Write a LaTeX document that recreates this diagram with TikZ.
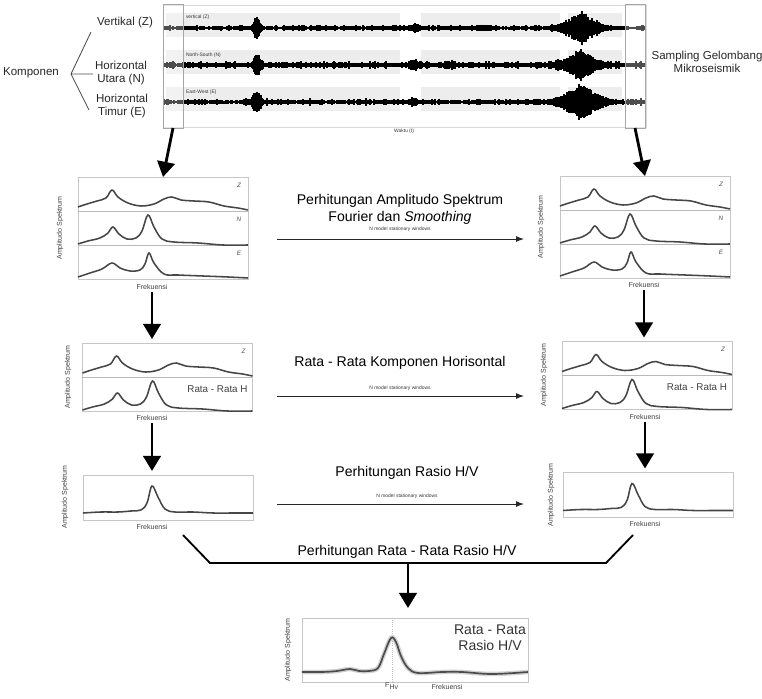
\documentclass[tikz,border=0pt]{standalone}
\usepackage{fontspec}
\setmainfont{Liberation Sans}
\usetikzlibrary{arrows.meta}

% spectrum curves, local coordinates of one sub panel (170 wide)
\newcommand{\curveZ}{\draw[spec] plot[smooth,tension=0.6] coordinates {(0,30) (9,27) (19,24) (28,21) (34,13) (40,20) (50,26) (63,29) (76,27) (86,22) (94,20) (103,23) (116,24) (131,25) (146,29) (160,31) (170,33)};}
\newcommand{\curveN}{\draw[spec] plot[smooth,tension=0.6] coordinates {(0,33) (10,30) (22,27) (30,22) (35,16) (41,23) (49,28) (58,27) (64,20) (70,4) (76,16) (84,28) (96,31) (120,32) (145,34) (170,34)};}
\newcommand{\curveE}{\draw[spec] plot[smooth,tension=0.6] coordinates {(0,32) (12,28) (24,24) (34,18) (42,23) (52,26) (62,25) (67,19) (71,8) (76,18) (86,29) (100,30) (125,31) (150,32) (170,33)};}
\newcommand{\curveHV}{\draw[spec] plot[smooth,tension=0.6] coordinates {(0,38) (18,37) (35,37) (48,36) (58,35) (64,28) (69,11) (75,22) (82,34) (92,37) (110,37) (130,38) (150,38) (170,38)};}

\begin{document}
\begin{tikzpicture}[x=0.025cm,y=-0.025cm,inner sep=0pt,outer sep=0pt,
spanel/.style={draw=gray!45,line width=0.5pt,rectangle,minimum width=4.25cm},
divl/.style={gray!55,line width=0.5pt},
spec/.style={gray!55!black,line width=1.1pt},
trace/.style={black,line width=0.75pt},
band/.style={fill=gray!14},
win/.style={draw=gray!70,line width=0.5pt,fill=white,fill opacity=0.3,minimum width=0.5cm,minimum height=3.1cm},
bigarrow/.style={line width=2pt,-{Triangle[length=0.38cm,width=0.44cm]}},
thinarrow/.style={line width=0.7pt,gray!30!black,-{Latex[length=0.2cm,width=0.15cm]}},
proc/.style={font=\fontsize{10}{12}\selectfont,align=center},
comp/.style={font=\fontsize{8.2}{9.6}\selectfont,align=center,text=black!85},
minitxt/.style={font=\fontsize{3.5}{4}\selectfont,text=gray!40!black},
axlab/.style={font=\fontsize{5}{6}\selectfont,text=black!75},
ylab/.style={axlab,rotate=90},
letr/.style={font=\fontsize{4.5}{5}\selectfont\itshape,text=black!70}]
\useasboundingbox (0,0) rectangle (762,698);

% seismogram
\node[draw=gray!30,line width=0.4pt,minimum width=12.075cm,minimum height=3.05cm] (seis) at (404.5,66) {};
\foreach \yy in {28,65,102}{
  \fill[band] (166,\yy-15) rectangle (400,\yy+9);
  \fill[band] (421,\yy-15) rectangle (560,\yy+9);
  \fill[band] (568,\yy-15) rectangle (622,\yy+9);
}
\node[minitxt,anchor=west] (lbZ) at (186,17) {vertical (Z)};
\node[minitxt,anchor=west] (lbN) at (186,55) {North-South (N)};
\node[minitxt,anchor=west] (lbE) at (186,92) {East-West (E)};
\pgfmathsetseed{7}
\foreach \x in {164,...,645}{
  \pgfmathsetmacro\ua{min(abs(\x-257)/3,10)}
  \pgfmathsetmacro\ub{min(abs(\x-581)/38,1)}
  \pgfmathsetmacro\uc{min(abs(\x-414)/4,10)}
  \pgfmathsetmacro\ud{min(abs(\x-481)/5,10)}
  \pgfmathsetmacro\ue{min(abs(\x-452)/4,10)}
  \pgfmathsetmacro\az{1.0+0.8*rnd+1.6*rnd^4+(0.7+0.5*rnd)*(9/(1+\ua^4)+14*(1-\ub)^2+2.5/(1+\uc^2)+2/(1+\ud^2))}
  \pgfmathsetmacro\an{1.2+0.9*rnd+2.2*rnd^4+(0.7+0.5*rnd)*(10/(1+\ua^4)+12*(1-\ub)^2+3/(1+\uc^2)+2/(1+\ue^2))}
  \pgfmathsetmacro\ae{1.1+0.9*rnd+1.8*rnd^4+(0.7+0.5*rnd)*(7/(1+(\ua/1.5)^4)+14*(1-\ub)^1.6+2/(1+\uc^2))}
  \draw[trace] (\x,{28-\az}) -- (\x,{28+\az});
  \draw[trace] (\x,{65-\an}) -- (\x,{65+\an});
  \draw[trace] (\x,{102-\ae}) -- (\x,{102+\ae});
}
\node[win] (winL) at (173,66) {};
\node[win] (winR) at (635,66) {};
\node[minitxt] (tWaktu) at (404,131) {Waktu (t)};

% components
\node[comp] (tKomp) at (31,73) {Komponen};
\node[comp] (tVert) at (125,23) {Vertikal (Z)};
\node[comp] (tUtara) at (121,73) {Horizontal\\Utara (N)};
\node[comp] (tTimur) at (122,106) {Horizontal\\Timur (E)};
\coordinate (kc) at (71,74);
\coordinate (kTop) at (91,32);
\coordinate (kMid) at (93,74);
\coordinate (kBot) at (89,110);
\draw[black!70,line width=0.6pt] (kTop) -- (kc) -- (kBot) (kc) -- (kMid);
\node[comp] (tSampl) at (707,62) {Sampling Gelombang\\Mikroseismik};

% row 1: amplitude spectra
\node[spanel,minimum height=2.55cm] (specL) at (163,228) {};
\node[spanel,minimum height=2.55cm] (specR) at (645,227) {};
\foreach \p in {specL,specR}{
\begin{scope}[shift={(\p.north west)}]
  \draw[divl] (0,34) -- (170,34) (0,68) -- (170,68);
  \curveZ
  \begin{scope}[shift={(0,34)}]\curveN\end{scope}
  \begin{scope}[shift={(0,68)}]\curveE\end{scope}
  \node[letr] at (161,8) {Z};
  \node[letr] at (161,42) {N};
  \node[letr] at (161,76) {E};
\end{scope}
}
\node[ylab] (yL1) at (60,228) {Amplitudo Spektrum};
\node[ylab] (yR1) at (541,227) {Amplitudo Spektrum};
\node[axlab] (fqL1) at (152,287) {Frekuensi};
\node[axlab] (fqR1) at (644,285) {Frekuensi};

\node[proc] (tFour) at (400,209) {Perhitungan Amplitudo Spektrum\\Fourier dan \textit{Smoothing}};
\node[minitxt] (sFour) at (400,229) {N model stationary windows};
\coordinate (a1s) at (277,239);
\coordinate (a1e) at (524,239);
\draw[thinarrow] (a1s) -- (a1e);

% row 2: mean of horizontal components
\node[spanel,minimum height=1.7cm] (avgL) at (167.5,377) {};
\node[spanel,minimum height=1.7cm] (avgR) at (647,375.5) {};
\foreach \p in {avgL,avgR}{
\begin{scope}[shift={(\p.north west)}]
  \draw[divl] (0,34) -- (170,34);
  \curveZ
  \begin{scope}[shift={(0,34)}]\curveN\end{scope}
  \node[letr] at (161,8) {Z};
  \node[font=\fontsize{7}{8}\selectfont,text=black!75] at (135,46) {Rata - Rata H};
\end{scope}
}
\node[ylab] (yL2) at (68,377) {Amplitudo Spektrum};
\node[ylab] (yR2) at (544,375) {Amplitudo Spektrum};
\node[axlab] (fqL2) at (152,418) {Frekuensi};
\node[axlab] (fqR2) at (645,417) {Frekuensi};

\node[proc] (tAvg) at (400,363) {Rata - Rata Komponen Horisontal};
\node[minitxt] (sAvg) at (400,388) {N model stationary windows};
\coordinate (a2s) at (277,396);
\coordinate (a2e) at (524,396);
\draw[thinarrow] (a2s) -- (a2e);

% row 3: H/V ratio
\node[spanel,minimum height=1.125cm] (hvL) at (168,497.5) {};
\node[spanel,minimum height=1.125cm] (hvR) at (648,495) {};
\foreach \p in {hvL,hvR}{
\begin{scope}[shift={(\p.north west)}]
  \curveHV
\end{scope}
}
\node[ylab] (yL3) at (65,497) {Amplitudo Spektrum};
\node[ylab] (yR3) at (551,495) {Amplitudo Spektrum};
\node[axlab] (fqL3) at (152,527) {Frekuensi};
\node[axlab] (fqR3) at (645,524) {Frekuensi};

\node[proc] (tRas) at (407,473) {Perhitungan Rasio H/V};
\node[minitxt] (sRas) at (407,496) {N model stationary windows};
\coordinate (a3s) at (277,504);
\coordinate (a3e) at (524,504);
\draw[thinarrow] (a3s) -- (a3e);

% mean H/V
\coordinate (brL) at (183,535);
\coordinate (brBL) at (210,563);
\coordinate (brBR) at (606,563);
\coordinate (brR) at (633,535);
\coordinate (brM) at (408,563);
\draw[black,line width=1.3pt] (brL) -- (brBL) -- (brBR) -- (brR);
\node[proc] (tMean) at (407,552) {Perhitungan Rata - Rata Rasio H/V};

\node[spanel,minimum width=5.65cm,minimum height=1.6cm] (hvMean) at (415,650) {};
\begin{scope}[shift={(hvMean.north west)}]
  \draw[gray!50,densely dotted,line width=0.5pt] (90,0) -- (90,64);
  \draw[gray!35,line width=3.2pt] plot[smooth,tension=0.6] coordinates {(0,54) (20,54) (35,53) (48,51) (57,53) (67,53) (76,50) (82,36) (89,20) (94,24) (99,38) (106,50) (116,55) (140,54) (160,54) (190,56) (226,54)};
  \draw[black!70,line width=1.2pt] plot[smooth,tension=0.6] coordinates {(0,54) (20,54) (35,53) (48,51) (57,53) (67,53) (76,50) (82,36) (89,20) (94,24) (99,38) (106,50) (116,55) (140,54) (160,54) (190,56) (226,54)};
\end{scope}
\node[proc,font=\fontsize{10}{11.5}\selectfont,text=black!80] (tRR) at (490,638) {Rata - Rata\\Rasio H/V};
\node[ylab] (yM) at (288,650) {Amplitudo Spektrum};
\node[axlab] (tF0) at (392,686) {F$_{\mathrm{Hv}}$};
\node[axlab] (fqM) at (447,687) {Frekuensi};

% thick arrows
\draw[bigarrow] (winL.south) -- (specL.north);
\draw[bigarrow] (winR.south) -- (specR.north);
\draw[bigarrow,shorten <=0.07cm,shorten >=0.1cm] (fqL1.south) -- (fqL1.south |- avgL.north);
\draw[bigarrow,shorten <=0.07cm,shorten >=0.1cm] (fqR1.south) -- (fqR1.south |- avgR.north);
\draw[bigarrow,shorten <=0.07cm,shorten >=0.1cm] (fqL2.south) -- (fqL2.south |- hvL.north);
\draw[bigarrow,shorten <=0.07cm,shorten >=0.1cm] (fqR2.south) -- (fqR2.south |- hvR.north);
\draw[bigarrow,shorten >=0.25cm] (brM) -- (brM |- hvMean.north);
\end{tikzpicture}
\end{document}
